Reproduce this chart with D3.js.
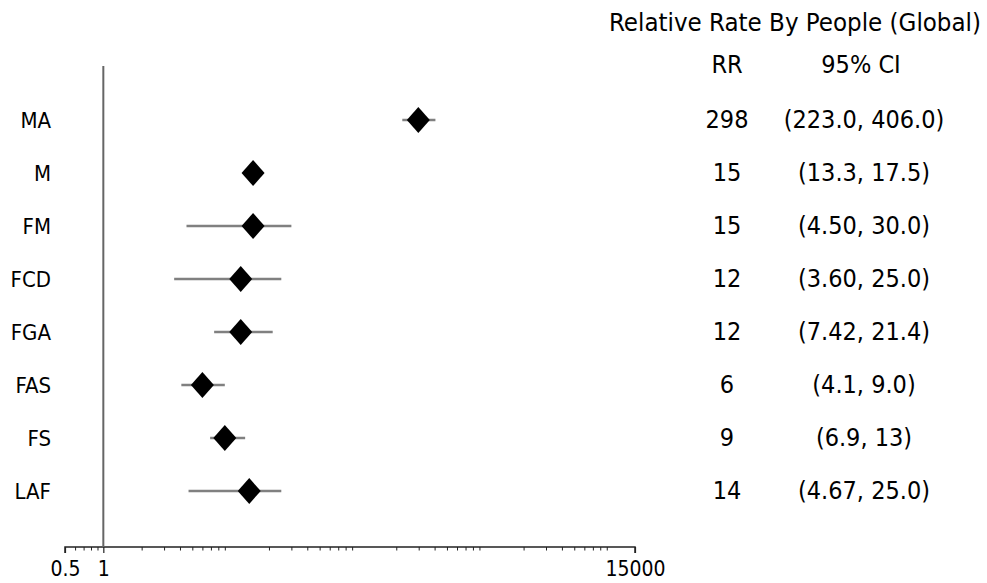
<!DOCTYPE html>
<html>
<head>
<meta charset="utf-8">
<script src="https://cdn.jsdelivr.net/npm/d3@7"></script>
<style>
  body { margin: 0; background: #fff; }
  text { font-family: "DejaVu Sans Condensed", "DejaVu Sans", sans-serif; font-stretch: condensed; fill: #000; }
  .xtick text { font-size: 21px; }
</style>
</head>
<body>
<div id="chart"></div>
<script>
// Dữ liệu
const groups = ["MA", "M", "FM", "FCD", "FGA", "FAS", "FS", "LAF"];
const rr     = [298, 15, 15, 12, 12, 6, 9, 14];
const lower  = [223.0, 13.3, 4.50, 3.60, 7.42, 4.1, 6.9, 4.67];
const upper  = [406.0, 17.5, 30.0, 25.0, 21.4, 9.0, 13, 25.0];
const rrText = ["298", "15", "15", "12", "12", "6", "9", "14"];
const ciText = ["(223.0, 406.0)", "(13.3, 17.5)", "(4.50, 30.0)", "(3.60, 25.0)",
                "(7.42, 21.4)", "(4.1, 9.0)", "(6.9, 13)", "(4.67, 25.0)"];
const tickValues = [0.5, 1, 15000];
const tickLabels = ["0.5", "1", "15000"];

const data = groups.map((g, i) => ({
  g, rr: rr[i], lo: lower[i], hi: upper[i], rrT: rrText[i], ciT: ciText[i]
}));

const W = 987, H = 583;
const svg = d3.select("#chart").append("svg")
  .attr("width", W).attr("height", H);

// Scale
const x = d3.scaleLog().domain([0.5, 15000]).range([65, 635]);
const y = d3.scalePoint().domain(groups).range([120, 491]);
const axisY = 547;

// Trục X: tick chính có nhãn + tick phụ 2..9
const minor = [];
for (let p = -1; p <= 4; p++) {
  for (let k = 2; k <= 9; k++) {
    const v = k * Math.pow(10, p);
    if (v > 0.5 && v < 15000) minor.push(v);
  }
}
svg.append("g")
  .attr("transform", `translate(0,${axisY})`)
  .call(d3.axisBottom(x).tickValues(minor).tickSize(3.5).tickFormat(""))
  .call(g => g.select(".domain").remove())
  .call(g => g.selectAll("line").attr("stroke", "#222").attr("stroke-width", 1));

const ax = svg.append("g")
  .attr("class", "xtick")
  .attr("transform", `translate(0,${axisY})`)
  .call(d3.axisBottom(x).tickValues(tickValues).tickSize(6)
          .tickFormat((d, i) => tickLabels[i]));
ax.attr("font-family", null).attr("font-size", null);
ax.select(".domain").attr("d", `M${x(0.5)},6V0H${x(15000)}V6`)
  .attr("stroke", "#222").attr("stroke-width", 1.5);
ax.selectAll("line").attr("stroke", "#222").attr("stroke-width", 1.2);
ax.selectAll("text").attr("y", 14);

// Đường tham chiếu tại 1
svg.append("line")
  .attr("x1", x(1)).attr("x2", x(1))
  .attr("y1", 66).attr("y2", axisY)
  .attr("stroke", "#666").attr("stroke-width", 2);

// Khoảng tin cậy
svg.selectAll("line.ci")
  .data(data)
  .enter().append("line")
    .attr("class", "ci")
    .attr("x1", d => x(d.lo)).attr("x2", d => x(d.hi))
    .attr("y1", d => y(d.g)).attr("y2", d => y(d.g))
    .attr("stroke", "#808080").attr("stroke-width", 2.5);

// Hình thoi
svg.selectAll("path.pt")
  .data(data)
  .enter().append("path")
    .attr("class", "pt")
    .attr("transform", d => `translate(${x(d.rr)},${y(d.g)})`)
    .attr("d", "M0,-13L11.5,0L0,13L-11.5,0Z")
    .attr("fill", "#000");

// Nhãn nhóm
svg.selectAll("text.lab")
  .data(data)
  .enter().append("text")
    .attr("class", "lab")
    .attr("x", 51)
    .attr("y", d => y(d.g) + 8)
    .attr("text-anchor", "end")
    .style("font-size", "22px")
    .text(d => d.g);

// Bảng bên phải
svg.append("text")
  .attr("x", 795).attr("y", 31)
  .attr("text-anchor", "middle")
  .style("font-size", "25.6px")
  .text("Relative Rate By People (Global)");
svg.append("text")
  .attr("x", 727).attr("y", 73)
  .attr("text-anchor", "middle")
  .style("font-size", "25px")
  .text("RR");
svg.append("text")
  .attr("x", 861).attr("y", 73)
  .attr("text-anchor", "middle")
  .style("font-size", "25px")
  .text("95% CI");

svg.selectAll("text.rr")
  .data(data)
  .enter().append("text")
    .attr("class", "rr")
    .attr("x", 727)
    .attr("y", d => y(d.g) + 8)
    .attr("text-anchor", "middle")
    .style("font-size", "25px")
    .text(d => d.rrT);

svg.selectAll("text.ci")
  .data(data)
  .enter().append("text")
    .attr("class", "ci")
    .attr("x", 864)
    .attr("y", d => y(d.g) + 8)
    .attr("text-anchor", "middle")
    .style("font-size", "25px")
    .text(d => d.ciT);
</script>
</body>
</html>
